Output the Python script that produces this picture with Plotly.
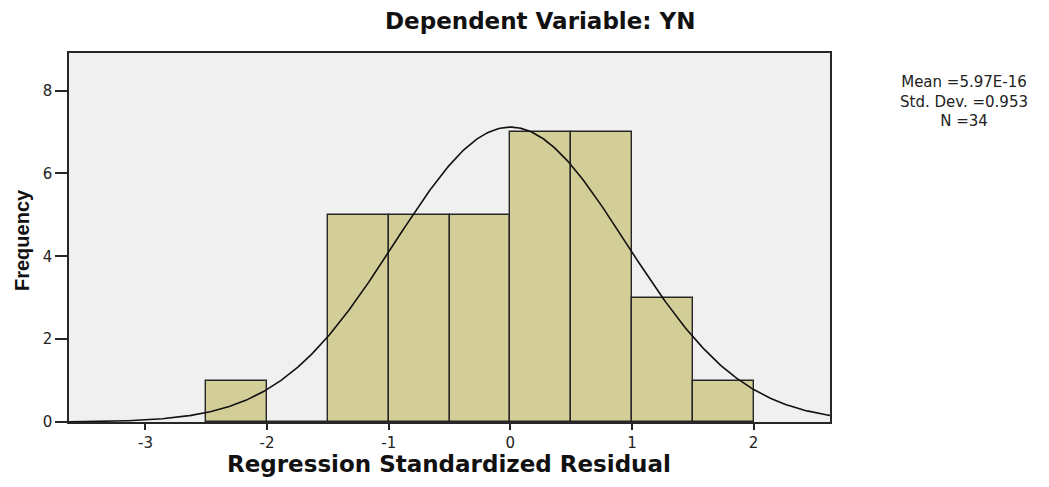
import numpy as np
import plotly.graph_objects as go

# Histogram data (bin width 0.5)
bin_starts = [-2.5, -2.0, -1.5, -1.0, -0.5, 0.0, 0.5, 1.0, 1.5]
frequencies = [1, 0, 5, 5, 5, 7, 7, 3, 1]
bin_width = 0.5

# Summary statistics shown in the legend
mean_val = 5.97e-16
std_dev = 0.953
n_obs = 34
stats_lines = ["Mean =5.97E-16", "Std. Dev. =0.953", "N =34"]

x_ticks = [-3, -2, -1, 0, 1, 2]
y_ticks = [0, 2, 4, 6, 8]

x_range = [-3.629, 2.629]
y_range = [0, 8.905]

centers = [s + bin_width / 2 for s in bin_starts]

# Normal curve scaled to histogram counts
xc = np.linspace(x_range[0], x_range[1], 400)
yc = n_obs * bin_width * np.exp(-0.5 * ((xc - mean_val) / std_dev) ** 2) / (std_dev * np.sqrt(2 * np.pi))

# plot area in pixels
L, R, T, B = 69, 830, 53, 422
W, H = R - L, B - T


def px(xp):
    return (xp - L) / W


def py(yp):
    return (B - yp) / H


fig = go.Figure()
fig.add_trace(go.Bar(
    x=centers, y=frequencies, width=bin_width,
    marker=dict(color="#D3CE97", line=dict(color="#262626", width=1.4)),
    hoverinfo="x+y", showlegend=False,
))
fig.add_trace(go.Scatter(
    x=xc, y=yc, mode="lines",
    line=dict(color="#111111", width=1.6),
    showlegend=False, hoverinfo="skip",
))

wide = "DejaVu Sans, Verdana, sans-serif"
arial = "Liberation Sans, Arial, sans-serif"

annotations = [
    dict(text="<b>Dependent Variable: YN</b>", x=px(540), y=py(21),
         font=dict(size=23, color="#111111", family=wide)),
    dict(text="<b>Regression Standardized Residual</b>", x=px(449), y=py(464),
         font=dict(size=23, color="#111111", family=wide)),
    dict(text="<b>Frequency</b>", x=px(22), y=py(240), textangle=-90,
         font=dict(size=20, color="#111111", family=arial)),
    dict(text="<br>".join(stats_lines), x=px(964), y=py(101), align="center",
         font=dict(size=15, color="#222222", family=wide)),
]
for a in annotations:
    a.update(xref="paper", yref="paper", xanchor="center", yanchor="middle",
             showarrow=False)

fig.update_layout(
    width=1049, height=487,
    margin=dict(l=L, r=1049 - R, t=T, b=487 - B),
    paper_bgcolor="white",
    plot_bgcolor="#F0F0F0",
    bargap=0,
    font=dict(family=wide, color="#222222"),
    xaxis=dict(
        range=x_range, tickvals=x_ticks, ticktext=[str(v) for v in x_ticks],
        showgrid=False, zeroline=False, automargin=False,
        showline=True, linecolor="#262626", linewidth=1.6, mirror=True,
        ticks="outside", ticklen=6, tickwidth=1.6, tickcolor="#262626",
        tickfont=dict(size=15, color="#222222", family=wide),
    ),
    yaxis=dict(
        range=y_range, tickvals=y_ticks, ticktext=[str(v) for v in y_ticks],
        showgrid=False, zeroline=False, automargin=False,
        showline=True, linecolor="#262626", linewidth=1.6, mirror=True,
        ticks="outside", ticklen=12, tickwidth=1.6, tickcolor="#262626",
        tickfont=dict(size=15, color="#222222", family=wide),
    ),
    annotations=annotations,
)

fig.write_html("out.html", config={"displayModeBar": False},
               post_script="document.body.style.margin='0';document.body.style.overflow='hidden';")
